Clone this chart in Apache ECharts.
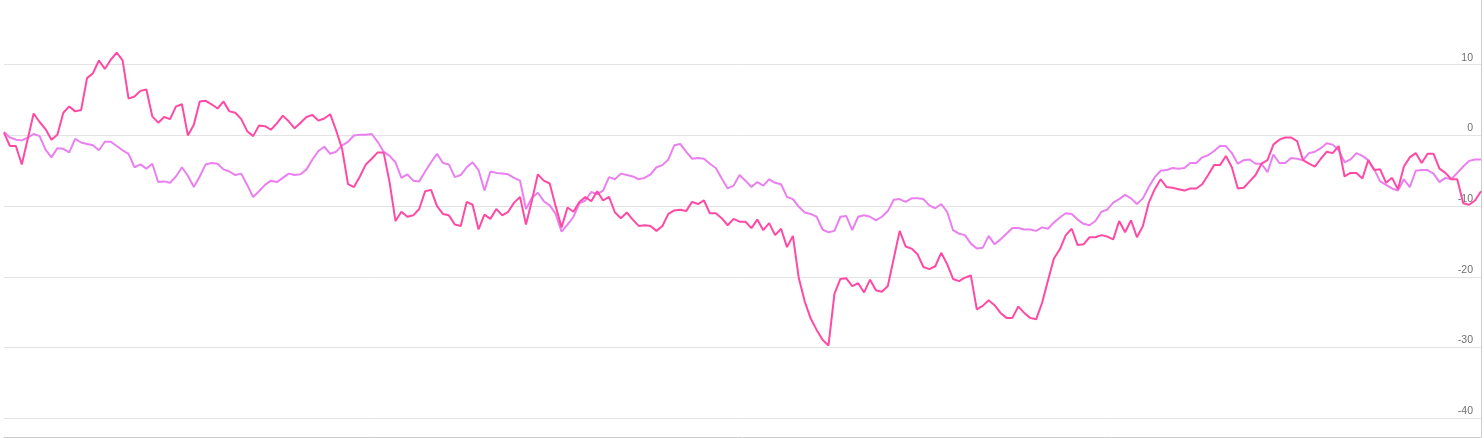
<!DOCTYPE html>
<html>
<head>
<meta charset="utf-8">
<style>
  html, body { margin: 0; padding: 0; background: #ffffff; }
  #chart { width: 1484px; height: 438px; }
</style>
<script src="https://cdn.jsdelivr.net/npm/echarts@6/dist/echarts.min.js"></script>
</head>
<body>
<div id="chart"></div>
<script>
const pinkValues = [
  0.4, -1.5, -1.5, -4.1, -0.5, 3.1, 1.9, 0.9, -0.6, 0.1,
  3.2, 4.1, 3.4, 3.6, 8.1, 8.8, 10.6, 9.4, 10.7, 11.7,
  10.6, 5.2, 5.5, 6.3, 6.5, 2.7, 1.8, 2.6, 2.3, 4.1,
  4.4, 0.0, 1.5, 4.8, 4.9, 4.4, 3.8, 4.8, 3.4, 3.2,
  2.3, 0.6, -0.1, 1.4, 1.3, 0.8, 1.7, 2.8, 2.0, 1.0,
  1.8, 2.6, 2.9, 2.1, 2.4, 3.0, 0.7, -1.9, -6.9, -7.3,
  -5.8, -4.1, -3.3, -2.4, -2.4, -6.6, -12.1, -10.8, -11.5, -11.3,
  -10.4, -7.9, -7.7, -10.0, -11.1, -11.3, -12.6, -12.8, -9.4, -9.8,
  -13.3, -11.2, -11.8, -10.4, -11.3, -10.8, -9.5, -8.7, -12.6, -9.2,
  -5.5, -6.4, -6.8, -10.0, -13.0, -10.2, -10.8, -9.4, -8.7, -9.3,
  -7.9, -9.2, -8.7, -10.9, -11.7, -10.9, -11.9, -12.8, -12.7, -12.8,
  -13.5, -12.8, -11.1, -10.6, -10.5, -10.7, -9.4, -9.7, -9.2, -11.0,
  -11.0, -11.7, -12.7, -11.8, -12.2, -12.2, -13.1, -11.9, -13.4, -12.4,
  -14.1, -13.2, -15.8, -14.2, -20.2, -23.5, -25.9, -27.5, -28.9, -29.7,
  -22.4, -20.3, -20.2, -21.3, -20.9, -22.2, -20.4, -21.9, -22.1, -21.3,
  -17.4, -13.5, -15.7, -16.0, -16.8, -18.6, -18.9, -18.5, -16.6, -18.2,
  -20.3, -20.6, -20.1, -19.8, -24.6, -24.1, -23.3, -24.0, -25.1, -25.8,
  -25.8, -24.2, -25.1, -25.8, -26.0, -23.7, -20.5, -17.4, -16.1, -14.1,
  -13.2, -15.5, -15.4, -14.4, -14.4, -14.1, -14.3, -14.7, -12.1, -13.7,
  -12.0, -14.4, -12.8, -9.5, -7.6, -6.2, -7.3, -7.4, -7.6, -7.8,
  -7.5, -7.5, -6.9, -5.6, -4.2, -4.2, -2.9, -4.5, -7.5, -7.4,
  -6.5, -5.6, -4.0, -3.5, -1.3, -0.6, -0.3, -0.3, -0.8, -3.5,
  -4.0, -4.4, -3.3, -2.3, -2.5, -1.5, -5.8, -5.3, -5.3, -6.1,
  -3.5, -4.9, -4.8, -6.7, -6.0, -7.6, -4.4, -3.1, -2.5, -3.9,
  -2.6, -2.6, -4.7, -5.3, -6.2, -6.2, -9.6, -9.8, -9.2, -7.9
];

const violetValues = [
  0.5, -0.3, -0.6, -0.7, -0.3, 0.2, -0.1, -2.0, -3.1, -1.8,
  -1.9, -2.4, -0.5, -1.0, -1.2, -1.4, -2.1, -0.9, -0.9, -1.5,
  -2.1, -2.6, -4.5, -4.1, -4.7, -4.0, -6.6, -6.5, -6.7, -5.8,
  -4.5, -5.7, -7.3, -5.8, -4.1, -3.9, -4.0, -4.8, -5.1, -5.6,
  -5.4, -7.0, -8.7, -7.9, -7.0, -6.4, -6.6, -6.0, -5.4, -5.6,
  -5.5, -4.8, -3.4, -2.2, -1.6, -2.6, -2.3, -1.4, -0.9, 0.0,
  0.1, 0.1, 0.2, -0.9, -2.3, -2.9, -3.8, -6.0, -5.5, -6.4,
  -6.5, -5.1, -3.8, -2.6, -3.9, -4.1, -5.9, -5.6, -4.5, -3.8,
  -4.9, -7.8, -5.1, -5.3, -5.4, -5.5, -6.0, -6.4, -10.4, -8.8,
  -8.1, -9.3, -9.9, -11.1, -13.6, -12.6, -11.5, -9.6, -9.2, -8.0,
  -8.3, -7.8, -5.9, -6.2, -5.4, -5.6, -5.8, -6.2, -6.0, -5.5,
  -4.5, -4.2, -3.4, -1.4, -1.2, -2.3, -3.3, -3.2, -3.3, -4.0,
  -4.6, -6.1, -7.5, -7.1, -5.6, -6.4, -7.3, -6.6, -7.1, -6.2,
  -6.7, -6.9, -8.7, -9.0, -10.1, -10.9, -11.1, -11.5, -13.3, -13.7,
  -13.5, -11.5, -11.4, -13.4, -11.5, -11.3, -11.5, -12.0, -11.5, -10.7,
  -9.1, -9.0, -9.4, -8.9, -8.9, -9.0, -9.9, -10.3, -9.7, -10.8,
  -13.4, -13.9, -14.1, -15.3, -16.0, -15.9, -14.2, -15.4, -14.7, -13.9,
  -13.1, -13.1, -13.3, -13.3, -13.5, -13.0, -13.2, -12.3, -11.6, -11.0,
  -11.1, -11.9, -12.5, -12.7, -12.1, -10.8, -10.5, -9.5, -9.0, -8.4,
  -8.9, -9.7, -8.9, -7.3, -5.9, -5.0, -4.9, -4.6, -4.7, -4.6,
  -3.9, -3.9, -3.1, -2.8, -2.2, -1.5, -1.5, -2.5, -4.0, -3.5,
  -3.4, -4.0, -4.0, -5.2, -2.7, -3.9, -3.9, -3.2, -3.3, -3.5,
  -2.5, -2.3, -1.8, -1.1, -1.3, -2.1, -3.8, -3.4, -2.5, -2.9,
  -3.5, -4.8, -6.5, -7.0, -7.5, -7.8, -6.2, -7.3, -5.0, -4.9,
  -4.9, -5.4, -6.6, -6.0, -6.2, -5.3, -4.4, -3.6, -3.4, -3.4
];

const categories = pinkValues.map((_, i) => String(i + 1));
const yTickMin = -40;
const yTickMax = 10;
const yTickStep = 10;

const chart = echarts.init(document.getElementById('chart'), null, { renderer: 'canvas' });

chart.setOption({
  animation: false,
  backgroundColor: '#ffffff',
  grid: [
    { left: 4, right: 3, top: 64.7, bottom: 19.7, containLabel: false },
    { left: 4, right: 3, top: 0, bottom: 1, containLabel: false }
  ],
  xAxis: [
    {
      type: 'category',
      gridIndex: 0,
      data: categories,
      boundaryGap: false,
      axisLine: { show: false },
      axisTick: { show: false },
      axisLabel: { show: false },
      splitLine: { show: false }
    },
    {
      type: 'value',
      gridIndex: 1,
      min: 0,
      max: 1,
      position: 'bottom',
      axisLine: { show: true, onZero: false, lineStyle: { color: '#cccccc', width: 1 } },
      axisTick: { show: false },
      axisLabel: { show: false },
      splitLine: { show: false }
    }
  ],
  yAxis: [
    {
      type: 'value',
      gridIndex: 0,
      position: 'right',
      min: yTickMin,
      max: yTickMax,
      interval: yTickStep,
      axisLine: { show: false },
      axisTick: { show: false },
      axisLabel: {
        show: true,
        inside: true,
        margin: 8,
        verticalAlign: 'bottom',
        lineHeight: 12,
        color: '#6f6f6f',
        fontSize: 10.5,
        fontFamily: 'Liberation Sans, Arial, sans-serif',
        padding: [0, 0, 1, 0]
      },
      splitLine: { show: true, lineStyle: { color: '#e3e3e3', width: 1 } }
    },
    {
      type: 'value',
      gridIndex: 1,
      min: 0,
      max: 1,
      position: 'right',
      axisLine: { show: true, onZero: false, lineStyle: { color: '#cccccc', width: 1 } },
      axisTick: { show: false },
      axisLabel: { show: false },
      splitLine: { show: false }
    }
  ],
  series: [
    {
      name: 'Series B',
      type: 'line',
      xAxisIndex: 0,
      yAxisIndex: 0,
      data: violetValues,
      showSymbol: false,
      symbol: 'none',
      clip: false,
      lineStyle: { color: '#ea80ef', width: 2 },
      itemStyle: { color: '#ea80ef' },
      z: 2
    },
    {
      name: 'Series A',
      type: 'line',
      xAxisIndex: 0,
      yAxisIndex: 0,
      data: pinkValues,
      showSymbol: false,
      symbol: 'none',
      clip: false,
      lineStyle: { color: '#ff4aa5', width: 2 },
      itemStyle: { color: '#ff4aa5' },
      z: 3
    }
  ]
});
</script>
</body>
</html>
